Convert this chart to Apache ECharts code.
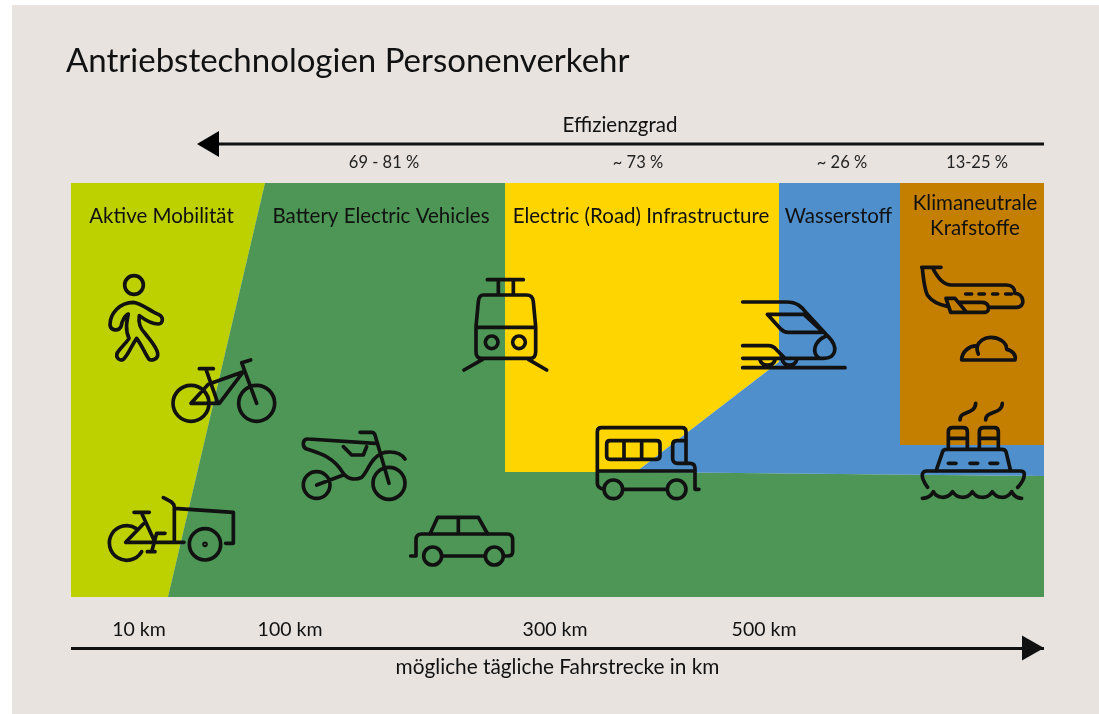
<!DOCTYPE html>
<html>
<head>
<meta charset="utf-8">
<title>Antriebstechnologien Personenverkehr</title>
<script src="https://cdn.jsdelivr.net/npm/echarts@6/dist/echarts.min.js"></script>
<style>
  html, body { margin: 0; padding: 0; background: #fff; }
  #container { width: 1099px; height: 714px; }
</style>
</head>
<body>
<div id="container"></div>
<script>
var dom = document.getElementById("container");
var myChart = echarts.init(dom);

var INK = '#111111';
var FONT = 'Lato, "Noto Sans", sans-serif';

// plot is measured from the top left corner of the coloured block
var regionNames = ['Aktive Mobilität', 'Battery Electric Vehicles', 'Electric (Road) Infrastructure', 'Wasserstoff', 'Klimaneutrale Krafstoffe'];
var regionColors = ['#bdd000', '#4d9655', '#ffd500', '#4f8fcb', '#c47e00'];
var regionShapes = [
  [[0, 0], [194, 0], [97, 414], [0, 414]],
  [[194, 0], [434, 0], [434, 289], [565, 289], [973, 293], [973, 414], [97, 414]],
  [[434, 0], [708, 0], [708, 179], [565, 289], [434, 289]],
  [[708, 0], [973, 0], [973, 293], [565, 289], [708, 179]],
  [[829, 0], [973, 0], [973, 262], [829, 262]]
];

var kmLabels = ['10 km', '100 km', '300 km', '500 km'];
var kmPos = [68, 219, 484, 693];

var effText = ['69 - 81 %', '~ 73 %', '~ 26 %', '13-25 %'];
var effPos = [313, 567, 771, 906];
var effArrow = [[126, -39], [973, -39]];

var headings = ['Aktive Mobilität', 'Battery Electric Vehicles', 'Electric (Road) Infrastructure', 'Wasserstoff', 'Klimaneutrale', 'Krafstoffe'];
var headingX = [90.5, 310, 570, 767.5, 904, 904];
var headingY = [33, 33, 33, 33, 20, 45];

// icons are traced at 3x, the origin is where that tracing starts on the plot
var iconNames = ['walker', 'bike', 'cargo', 'moto', 'car', 'tram', 'train', 'bus', 'ship', 'plane', 'cloud'];
var iconX = [-11, -11, -11, -11, -11, 379, 509, 509, 509, 509, 509];
var iconY = [67, 67, 67, 67, 67, 87, 67, 67, 67, 67, 67];
var iconPaths = {
  walker: 'M250,105a28,28 0 1,1 -56,0a28,28 0 1,1 56,0Z' +
    'M220,157C245,160 265,180 295,193C312,200 310,222 295,222C275,222 255,210 238,197C235,215 240,235 255,250C270,270 290,290 293,310C296,330 270,335 265,325C255,310 245,285 230,265C215,285 205,315 190,328C178,335 160,320 178,300C195,280 205,270 207,265C195,240 200,215 205,192C195,195 185,215 183,230C175,245 152,242 150,225C150,190 180,157 220,157Z',
  bike: 'M447,460a54,54 0 1,1 -108,0a54,54 0 1,1 108,0Z M644,460a54,54 0 1,1 -108,0a54,54 0 1,1 108,0Z' +
    'M393,460L478,460L550,365L445,403L393,460M418,356L460,356M438,358L472,455M572,330L545,338L590,460',
  cargo: 'M228,835A52,52 0 1,0 245,905M197,877L372,877M197,877L250,822M222,787L268,787M245,790L285,877M315,850L290,850L275,905M262,905L285,905' +
    'M310,743C335,755 343,760 343,772L343,877M343,775L520,787L520,880L497,880' +
    'M482,883a47,47 0 1,1 -94,0a47,47 0 1,1 94,0Z M438,883a3,3 0 1,1 -6,0a3,3 0 1,1 6,0Z',
  moto: 'M810,705a40,40 0 1,1 -80,0a40,40 0 1,1 80,0Z M1035,700a48,48 0 1,1 -96,0a48,48 0 1,1 96,0Z' +
    'M770,705L850,675M945,580L745,567C727,565 725,590 740,597C780,610 820,620 850,670C865,690 890,690 905,682C925,665 930,620 975,607C1005,603 1025,612 1035,627' +
    'M900,547L935,547Q942,547 945,555L987,700M850,590L875,615L910,615L920,590',
  car: 'M1052,918L1068,918L1068,870Q1068,852 1085,852L1342,852Q1358,852 1358,870L1358,905Q1358,918 1342,918L1330,918M1145,918L1275,918M1145,918a27,27 0 1,1 -54,0a27,27 0 1,1 54,0ZM1330,918a27,27 0 1,1 -54,0a27,27 0 1,1 54,0Z' +
    'M1110,852L1133,802L1255,802L1283,852M1195,802L1195,852',
  tram: 'M112,29L220,29M145,32L145,72M190,32L190,72M100,75L230,75Q248,75 250,95L257,170L257,245Q257,265 240,265L95,265Q78,265 78,245L78,170L85,95Q87,75 100,75ZM78,172L257,172' +
    'M144,217a19,19 0 1,1 -38,0a19,19 0 1,1 38,0ZM226,217a19,19 0 1,1 -38,0a19,19 0 1,1 38,0ZM98,268L42,300M235,268L290,300',
  train: 'M488,156L620,156C650,156 665,170 680,190L745,260C775,290 770,325 730,325L488,325M562,193L672,193L730,247L625,247Q612,247 600,235ZM738,258C700,275 695,310 718,325' +
    'M488,287L565,287Q580,287 590,300L615,325M488,353L795,353M540,330C545,350 580,350 585,330M607,330C612,350 645,350 650,330',
  bus: 'M72,718Q52,715 52,700L52,545Q52,533 65,533L305,533Q318,533 318,545L318,640L330,640Q345,640 345,655L345,718L357,718M128,718L262,718M52,663L345,663' +
    'M128,718a28,28 0 1,1 -56,0a28,28 0 1,1 56,0ZM318,718a28,28 0 1,1 -56,0a28,28 0 1,1 56,0Z' +
    'M90,572L230,572Q240,572 240,582L240,618Q240,628 230,628L90,628Q80,628 80,618L80,582Q80,572 90,572ZM132,572L132,628M185,572L185,628M318,572L290,572Q278,572 278,585L278,625Q278,640 293,640L318,640',
  ship: 'M1105,595L1105,545Q1105,533 1118,533L1150,533Q1162,533 1162,545L1162,595M1105,565L1162,565M1198,595L1198,545Q1198,533 1211,533L1243,533Q1255,533 1255,545L1255,595M1198,565L1255,565' +
    'M1140,510C1140,480 1185,495 1187,460M1217,510C1217,480 1265,495 1267,460M1068,663L1088,605Q1090,598 1100,598L1265,598Q1275,598 1278,605L1292,663' +
    'M1105,640L1128,640M1170,640L1193,640M1230,640L1253,640M1043,712C1030,695 1025,685 1027,672Q1030,663 1040,663L1320,663Q1333,663 1333,672C1333,685 1325,700 1313,712' +
    'M1027,745C1045,745 1055,735 1060,725C1070,745 1100,750 1118,725C1130,745 1160,750 1177,725C1190,745 1220,750 1237,725C1250,745 1280,750 1295,725C1300,735 1310,745 1325,745',
  plane: 'M1025,52L1083,52M1027,55C1030,80 1032,115 1042,135C1055,155 1080,165 1105,170M1060,58C1075,85 1090,105 1115,105L1280,105C1295,105 1305,115 1305,130C1330,130 1340,170 1310,172L1225,172' +
    'M1098,145L1125,145L1160,187M1098,145L1112,187L1215,187Q1228,185 1225,170Q1222,157 1205,157L1135,157M1157,132L1175,132M1197,132L1213,132M1238,132L1253,132M1277,132L1295,132',
  cloud: 'M1145,330L1305,330C1310,315 1295,300 1280,298C1280,275 1255,262 1232,262C1212,262 1197,275 1192,288C1170,285 1145,305 1145,330ZM1192,288C1190,295 1192,305 1195,312'
};

function indexData(list) {
  return list.map(function (v, i) { return [i]; });
}

option = {
  animation: false,
  backgroundColor: '#ffffff',
  title: {
    text: 'Antriebstechnologien Personenverkehr',
    left: 61,
    top: 40,
    textStyle: { fontFamily: FONT, fontWeight: 'normal', fontSize: 33, color: INK }
  },
  graphic: [{
    type: 'rect',
    z: -10,
    silent: true,
    shape: { x: 12, y: 5, width: 1087, height: 709 },
    style: { fill: '#e8e3df' }
  }],
  grid: { left: 71, right: 55, top: 183, bottom: 117 },
  xAxis: {
    type: 'value',
    min: 0,
    max: 973,
    offset: 51,
    name: 'mögliche tägliche Fahrstrecke in km',
    nameLocation: 'middle',
    nameGap: 9,
    nameTextStyle: { fontFamily: FONT, fontSize: 20.8, color: INK },
    splitLine: { show: false },
    axisTick: { show: false },
    axisLine: {
      show: true,
      onZero: false,
      symbol: ['none', 'triangle'],
      symbolSize: [25, 22],
      symbolOffset: [0, -11],
      lineStyle: { color: INK, width: 3, cap: 'butt' }
    },
    axisLabel: {
      inside: true,
      margin: 8,
      customValues: kmPos,
      fontFamily: FONT,
      fontSize: 19.5,
      color: INK,
      formatter: function (v) { return kmLabels[kmPos.indexOf(v)]; }
    }
  },
  yAxis: { type: 'value', inverse: true, min: 0, max: 414, show: false, splitLine: { show: false } },
  series: [{
    // coloured fields
    type: 'custom',
    coordinateSystem: 'cartesian2d',
    clip: false,
    silent: true,
    z: 1,
    data: indexData(regionNames),
    renderItem: function (params, api) {
      var i = params.dataIndex;
      return {
        type: 'polygon',
        shape: { points: regionShapes[i].map(function (p) { return api.coord(p); }) },
        style: { fill: regionColors[i] }
      };
    }
  }, {
    // efficiency arrow, points to the left
    type: 'custom',
    coordinateSystem: 'cartesian2d',
    clip: false,
    silent: true,
    z: 2,
    data: [[0]],
    renderItem: function (params, api) {
      var a = api.coord(effArrow[0]);
      var b = api.coord(effArrow[1]);
      return {
        type: 'group',
        children: [{
          type: 'line',
          shape: { x1: a[0] + 10, y1: a[1], x2: b[0], y2: b[1] },
          style: { stroke: INK, lineWidth: 3 }
        }, {
          type: 'polygon',
          shape: { points: [[a[0], a[1]], [a[0] + 22, a[1] - 13], [a[0] + 22, a[1] + 13]] },
          style: { fill: '#000' }
        }]
      };
    }
  }, {
    // icons
    type: 'custom',
    coordinateSystem: 'cartesian2d',
    clip: false,
    silent: true,
    z: 3,
    data: indexData(iconNames),
    renderItem: function (params, api) {
      var i = params.dataIndex;
      var pt = api.coord([iconX[i], iconY[i]]);
      return {
        type: 'path',
        x: pt[0],
        y: pt[1],
        scaleX: 1 / 3,
        scaleY: 1 / 3,
        shape: { pathData: iconPaths[iconNames[i]] },
        style: { fill: null, stroke: INK, lineWidth: 11, lineCap: 'round', lineJoin: 'round' }
      };
    }
  }, {
    // headings on the fields
    type: 'custom',
    coordinateSystem: 'cartesian2d',
    clip: false,
    silent: true,
    z: 4,
    data: indexData(headings),
    renderItem: function (params, api) {
      var i = params.dataIndex;
      var pt = api.coord([headingX[i], headingY[i]]);
      return {
        type: 'text',
        x: pt[0],
        y: pt[1],
        style: { text: headings[i], fill: INK, font: '20.5px ' + FONT, textAlign: 'center', textVerticalAlign: 'middle' }
      };
    }
  }, {
    // efficiency values under the arrow
    type: 'custom',
    coordinateSystem: 'cartesian2d',
    clip: false,
    silent: true,
    z: 4,
    data: indexData(effText),
    renderItem: function (params, api) {
      var i = params.dataIndex;
      var pt = api.coord([effPos[i], -20]);
      return {
        type: 'text',
        x: pt[0],
        y: pt[1],
        style: { text: effText[i], fill: '#222', font: '16.5px ' + FONT, textAlign: 'center', textVerticalAlign: 'middle' }
      };
    }
  }, {
    // arrow title
    type: 'custom',
    coordinateSystem: 'cartesian2d',
    clip: false,
    silent: true,
    z: 4,
    data: [[0]],
    renderItem: function (params, api) {
      var pt = api.coord([549, -58]);
      return {
        type: 'text',
        x: pt[0],
        y: pt[1],
        style: { text: 'Effizienzgrad', fill: INK, font: '20.5px ' + FONT, textAlign: 'center', textVerticalAlign: 'middle' }
      };
    }
  }]
};

if (option && typeof option === "object") {
  myChart.setOption(option, true);
}
</script>
</body>
</html>
